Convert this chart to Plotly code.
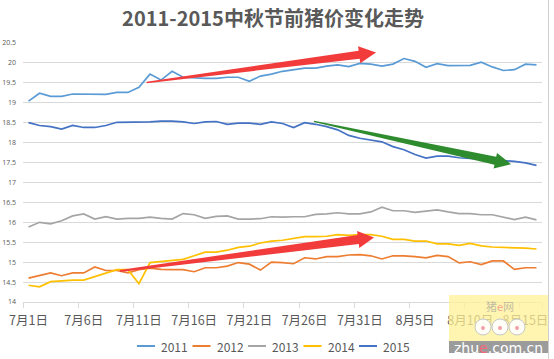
import plotly.graph_objects as go

# ---------------- data ----------------
dates = [f"7月{d}日" for d in range(1, 32)] + [f"8月{d}日" for d in range(1, 17)]
idx = list(range(len(dates)))
years = ["2011", "2012", "2013", "2014", "2015"]

p2011 = [19.04, 19.24, 19.16, 19.16, 19.22, 19.22, 19.21, 19.21, 19.26, 19.26,
         19.39, 19.72, 19.57, 19.79, 19.64, 19.62, 19.61, 19.61, 19.64, 19.64,
         19.54, 19.67, 19.72, 19.79, 19.83, 19.87, 19.87, 19.92, 19.95, 19.91,
         19.99, 19.97, 19.92, 19.97, 20.11, 20.04, 19.89, 19.98, 19.93, 19.93,
         19.94, 20.02, 19.90, 19.81, 19.83, 19.97, 19.95]
p2012 = [14.60, 14.66, 14.73, 14.66, 14.73, 14.73, 14.88, 14.79, 14.79, 14.73,
         14.81, 14.85, 14.82, 14.81, 14.81, 14.76, 14.86, 14.86, 14.90, 14.99,
         14.95, 14.80, 15.00, 14.99, 14.96, 15.11, 15.08, 15.14, 15.14, 15.18,
         15.19, 15.16, 15.08, 15.16, 15.16, 15.14, 15.11, 15.17, 15.14, 14.98,
         15.01, 14.94, 15.03, 15.03, 14.82, 14.86, 14.86]
p2013 = [15.88, 16.00, 15.96, 16.04, 16.16, 16.21, 16.08, 16.14, 16.08, 16.10,
         16.10, 16.13, 16.10, 16.08, 16.22, 16.19, 16.10, 16.15, 16.16, 16.08,
         16.08, 16.09, 16.14, 16.13, 16.14, 16.14, 16.20, 16.21, 16.24, 16.21,
         16.21, 16.26, 16.38, 16.29, 16.29, 16.25, 16.28, 16.31, 16.26, 16.22,
         16.22, 16.19, 16.19, 16.13, 16.07, 16.13, 16.06]
p2014 = [14.42, 14.38, 14.51, 14.53, 14.55, 14.55, 14.64, 14.73, 14.81, 14.81,
         14.46, 14.99, 15.02, 15.04, 15.07, 15.16, 15.25, 15.25, 15.30, 15.37,
         15.40, 15.48, 15.53, 15.55, 15.60, 15.64, 15.64, 15.65, 15.69, 15.67,
         15.69, 15.69, 15.65, 15.57, 15.57, 15.53, 15.53, 15.46, 15.46, 15.42,
         15.47, 15.41, 15.38, 15.37, 15.37, 15.35, 15.33]
p2015 = [18.50, 18.43, 18.40, 18.34, 18.43, 18.38, 18.38, 18.43, 18.51, 18.51,
         18.52, 18.52, 18.54, 18.54, 18.52, 18.48, 18.52, 18.53, 18.46, 18.49,
         18.49, 18.46, 18.52, 18.48, 18.38, 18.50, 18.46, 18.40, 18.32, 18.18,
         18.11, 18.07, 18.02, 17.90, 17.82, 17.70, 17.61, 17.66, 17.66, 17.62,
         17.60, 17.58, 17.56, 17.55, 17.53, 17.49, 17.43]
series = [p2011, p2012, p2013, p2014, p2015]
colors = ["#5B9BD5", "#ED7D31", "#A5A5A5", "#FFC000", "#4472C4"]

y_ticks = [14, 14.5, 15, 15.5, 16, 16.5, 17, 17.5, 18, 18.5, 19, 19.5, 20, 20.5]

# trend arrows (tail / tip in data units: day index, price)
arrows = [
    dict(tail=(10.70, 19.51), tip=(31.47, 20.26), color="#F23B3B", wt=1.5, ws=8, wh=17, hl=17),
    dict(tail=(25.85, 18.535), tip=(43.69, 17.46), color="#2E8B2E", wt=1.2, ws=8, wh=16, hl=16),
    dict(tail=(8.28, 14.78), tip=(31.29, 15.62), color="#F23B3B", wt=2.0, ws=9, wh=17, hl=16),
]

# ---------------- layout geometry ----------------
W_PX, H_PX = 554, 359
L, R, T, B = 23, 12, 43, 57
PW, PH = W_PX - L - R, H_PX - T - B
X_MIN, X_MAX = -0.5, len(dates) - 0.5
Y_MIN, Y_MAX = y_ticks[0], y_ticks[-1]
FONT = "Noto Sans CJK SC"
GRID = "#D9D9D9"
TXT = "#595959"


def to_px(i, v):
    return (L + (i - X_MIN) / (X_MAX - X_MIN) * PW,
            T + (Y_MAX - v) / (Y_MAX - Y_MIN) * PH)


def to_data(px, py):
    return (X_MIN + (px - L) / PW * (X_MAX - X_MIN),
            Y_MAX - (py - T) / PH * (Y_MAX - Y_MIN))


def px2paper(px, py):
    return ((px - L) / PW, 1 - (py - T) / PH)


fig = go.Figure()
for name, vals, col in zip(years, series, colors):
    fig.add_trace(go.Scatter(x=idx, y=vals, mode="lines", name=name,
                             line=dict(color=col, width=1.7),
                             showlegend=False, hoverinfo="skip"))

shapes = []
annotations = []

# arrows
for a in arrows:
    tx, ty = to_px(*a["tail"])
    px_, py_ = to_px(*a["tip"])
    dx, dy = px_ - tx, py_ - ty
    ln = (dx * dx + dy * dy) ** 0.5
    ux, uy = dx / ln, dy / ln
    nx, ny = -uy, ux
    bx, by = px_ - a["hl"] * ux, py_ - a["hl"] * uy
    pts = [
        (tx + nx * a["wt"] / 2, ty + ny * a["wt"] / 2),
        (bx + nx * a["ws"] / 2, by + ny * a["ws"] / 2),
        (bx + nx * a["wh"] / 2, by + ny * a["wh"] / 2),
        (px_, py_),
        (bx - nx * a["wh"] / 2, by - ny * a["wh"] / 2),
        (bx - nx * a["ws"] / 2, by - ny * a["ws"] / 2),
        (tx - nx * a["wt"] / 2, ty - ny * a["wt"] / 2),
    ]
    dpts = [to_data(x, y) for x, y in pts]
    path = "M " + " L ".join(f"{x:.4f},{y:.4f}" for x, y in dpts) + " Z"
    shapes.append(dict(type="path", xref="x", yref="y", path=path,
                       fillcolor=a["color"], line=dict(width=0), layer="above"))

# custom legend
LEG_Y = 346
for k, (name, col) in enumerate(zip(years, colors)):
    x0 = 137 + 55.5 * k
    p0 = px2paper(x0, LEG_Y)
    p1 = px2paper(x0 + 18, LEG_Y)
    shapes.append(dict(type="line", xref="paper", yref="paper",
                       x0=p0[0], y0=p0[1], x1=p1[0], y1=p1[1],
                       line=dict(color=col, width=2)))
    pt = px2paper(x0 + 22, LEG_Y)
    annotations.append(dict(text=name, xref="paper", yref="paper", x=pt[0], y=pt[1],
                            xanchor="left", yanchor="middle", showarrow=False,
                            font=dict(family=FONT, size=12, color=TXT)))

# watermark (zhue.com.cn)
wa = px2paper(449, 295)
wb = px2paper(548, 353)
shapes.append(dict(type="rect", xref="paper", yref="paper", x0=wa[0], y0=wb[1], x1=wb[0], y1=wa[1],
                   fillcolor="rgba(255,240,150,0.75)", line=dict(width=0), layer="above"))
gb = px2paper(449, 341)
shapes.append(dict(type="rect", xref="paper", yref="paper", x0=wa[0], y0=wb[1], x1=wb[0], y1=gb[1],
                   fillcolor="#9B9B9B", line=dict(width=0), layer="above"))
for cx in (483, 500, 517):
    c0 = px2paper(cx - 8, 319)
    c1 = px2paper(cx + 8, 335)
    shapes.append(dict(type="circle", xref="paper", yref="paper", x0=c0[0], y0=c1[1], x1=c1[0], y1=c0[1],
                       fillcolor="rgba(255,255,255,0.9)", line=dict(color="#C8C8C8", width=1), layer="above"))
    d0 = px2paper(cx - 2, 326)
    d1 = px2paper(cx + 2, 330)
    shapes.append(dict(type="circle", xref="paper", yref="paper", x0=d0[0], y0=d1[1], x1=d1[0], y1=d0[1],
                       fillcolor="#F2A0A8", line=dict(width=0), layer="above"))
wt_ = px2paper(498, 347.5)
annotations.append(dict(text="zhu<span style='color:#F4667A'>e</span>.com.cn", xref="paper", yref="paper",
                        x=wt_[0], y=wt_[1], xanchor="center", yanchor="middle", showarrow=False,
                        font=dict(family="DejaVu Sans", size=14, color="white")))
wl = px2paper(500, 306)
annotations.append(dict(text="猪<span style='color:#F4667A'>e</span>网", xref="paper", yref="paper",
                        x=wl[0], y=wl[1], xanchor="center", yanchor="middle", showarrow=False,
                        font=dict(family=FONT, size=11, color="rgba(150,150,150,0.6)")))

# right frame edge
e0 = px2paper(548.5, 0)
e1 = px2paper(548.5, 359)
shapes.append(dict(type="line", xref="paper", yref="paper", x0=e0[0], y0=e0[1], x1=e1[0], y1=e1[1],
                   line=dict(color="#CFCFCF", width=1)))

fig.update_layout(
    width=W_PX, height=H_PX,
    margin=dict(l=L, r=R, t=T, b=B, pad=0),
    paper_bgcolor="white", plot_bgcolor="white",
    title=dict(text="<b>2011-2015中秋节前猪价变化走势</b>", xref="container", yref="container",
               x=273 / W_PX, y=1 - 18.5 / H_PX, xanchor="center", yanchor="middle",
               font=dict(family=FONT, size=20, color=TXT)),
    showlegend=False,
    shapes=shapes,
    annotations=annotations,
    xaxis=dict(range=[X_MIN, X_MAX], tickmode="array", tickvals=idx[::5], ticktext=dates[::5],
               ticks="", ticklabelstandoff=7, showgrid=False, zeroline=False, showline=True,
               linecolor=GRID, linewidth=1,
               tickfont=dict(family=FONT, size=12.5, color=TXT), automargin=False,
               minor=dict(tickmode="array", tickvals=[i - 0.5 for i in idx[::5]] + [X_MAX],
                          ticks="outside", ticklen=5, tickcolor=GRID, tickwidth=1, showgrid=False)),
    yaxis=dict(range=[Y_MIN, Y_MAX], tickmode="array", tickvals=y_ticks,
               ticktext=[f"{v:g}" for v in y_ticks], ticks="", ticklabelstandoff=6,
               showgrid=True, gridcolor=GRID,
               gridwidth=1, zeroline=False, showline=False,
               tickfont=dict(family="Open Sans", size=7, color=TXT), automargin=False),
)

fig.write_html("out.html", config={"displayModeBar": False},
               post_script="document.body.style.margin='0';document.body.style.overflow='hidden';")
